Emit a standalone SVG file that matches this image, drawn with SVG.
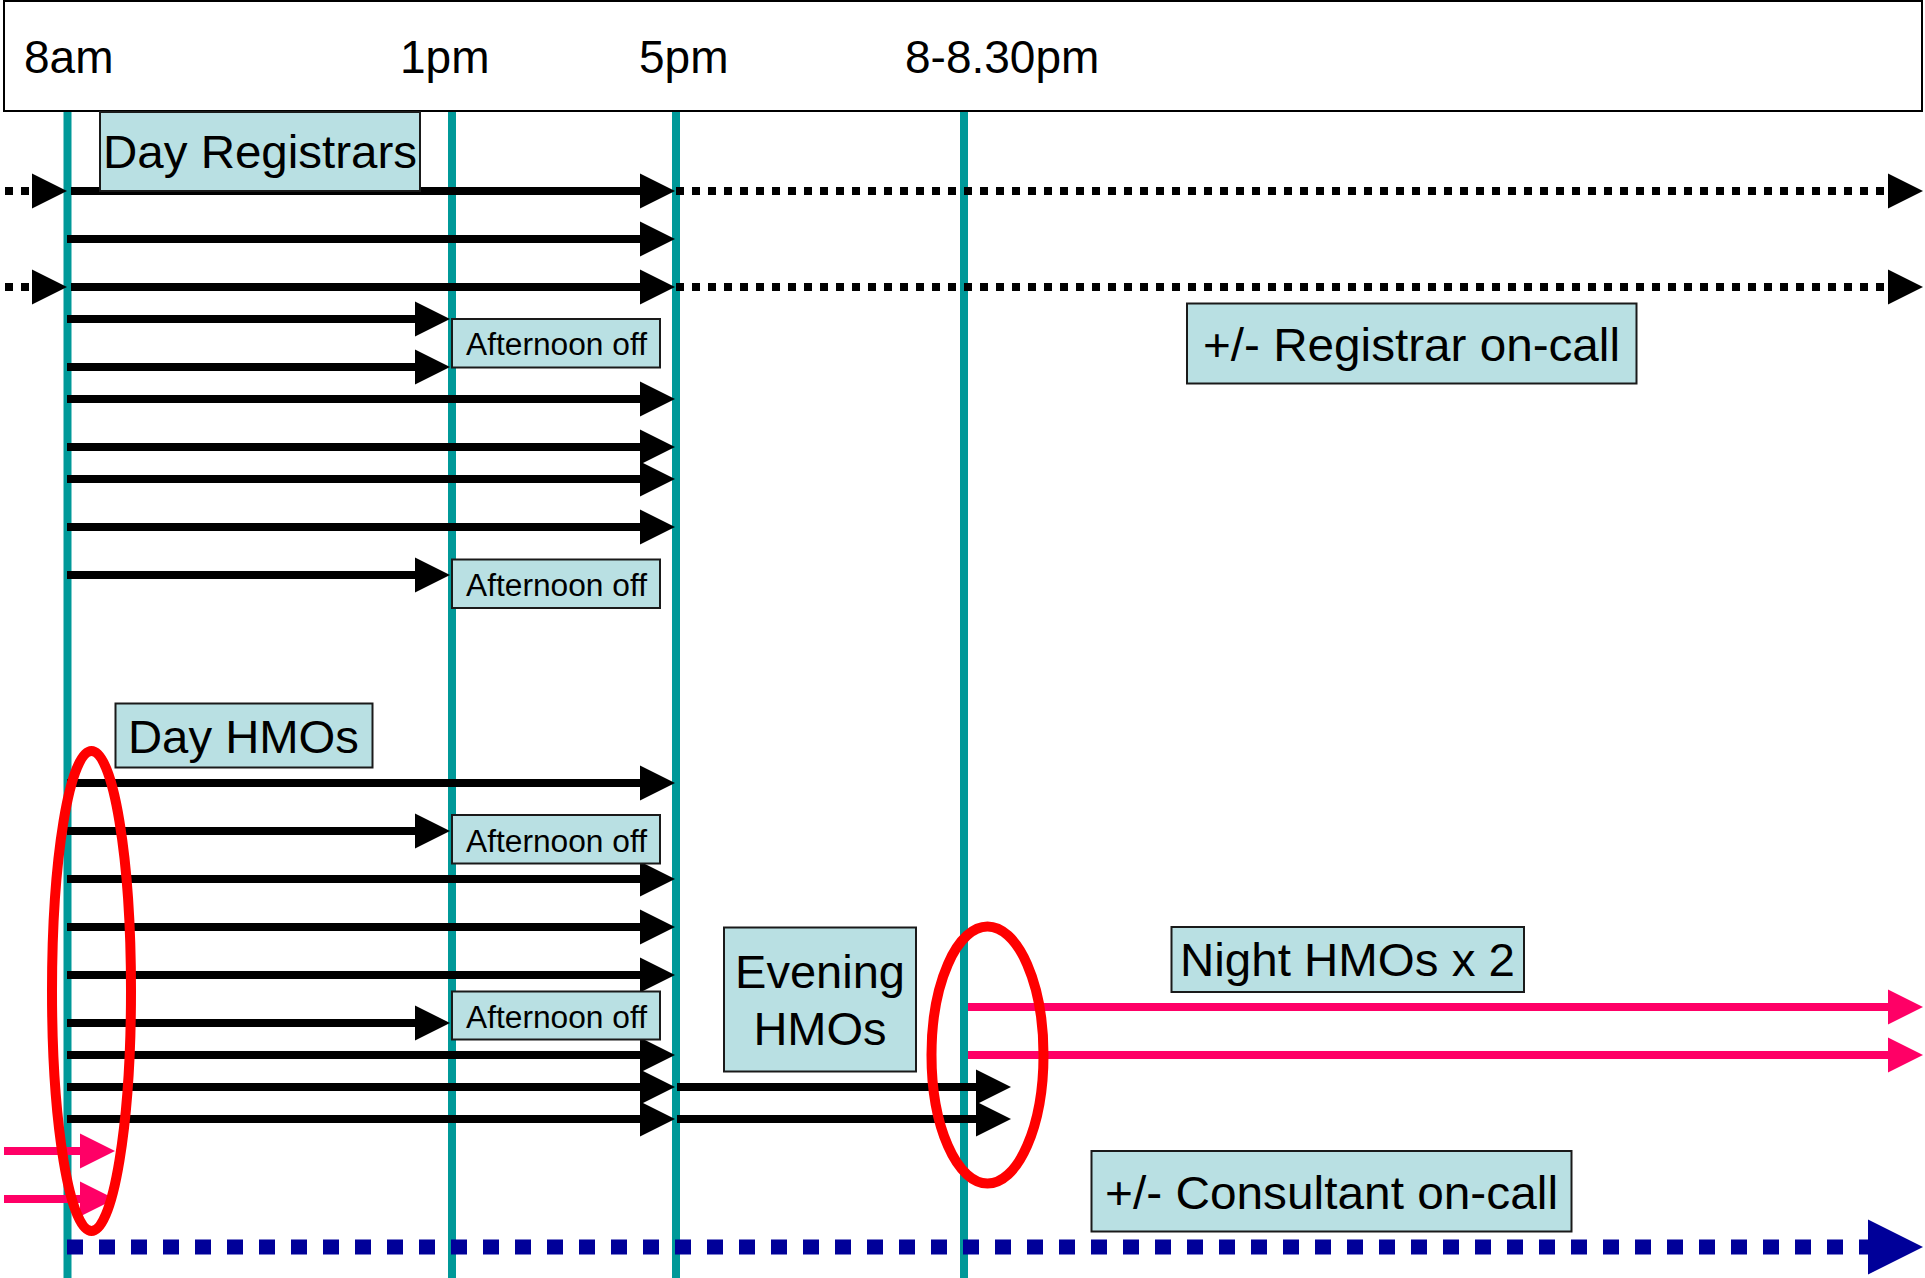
<svg xmlns="http://www.w3.org/2000/svg" xmlns:xlink="http://www.w3.org/1999/xlink" width="1925" height="1278" viewBox="0 0 1925 1278">
<style>
text{font-family:"Liberation Sans",Arial,sans-serif;fill:#000}
.big{font-size:47px}
.hdr{font-size:46px}
.small{font-size:31px}
.box{fill:#B9E0E3;stroke:#1a1a1a;stroke-width:2}
.teal{stroke:#009999;stroke-width:8}
.arr{stroke:#000;stroke-width:8;fill:none}
.dot{stroke:#000;stroke-width:8;stroke-dasharray:8 8;fill:none}
.pink{stroke:#FF0066;stroke-width:8;fill:none}
.blue{stroke:#000099;stroke-width:15;stroke-dasharray:16 16;fill:none}
.oval{fill:none;stroke:#FF0000;stroke-width:10}
</style>
<defs>
<path id="hd" d="M0,-17.5 L35,0 L0,17.5Z" fill="#000"/>
<path id="hp" d="M0,-17.5 L35,0 L0,17.5Z" fill="#FF0066"/>
<path id="hb" d="M0,-27.5 L55,0 L0,27.5Z" fill="#000099"/>
</defs>
<rect width="1925" height="1278" fill="#fff"/>
<g id="header">
<rect x="4" y="1" width="1918" height="110" fill="#fff" stroke="#000" stroke-width="2"/>
<text class="hdr" x="24" y="73">8am</text>
<text class="hdr" x="400" y="73">1pm</text>
<text class="hdr" x="639" y="73">5pm</text>
<text class="hdr" x="905" y="73">8-8.30pm</text>
</g>
<g id="timelines">
<line class="teal" x1="67.5" y1="112" x2="67.5" y2="1278"/>
<line class="teal" x1="452" y1="112" x2="452" y2="1278"/>
<line class="teal" x1="676" y1="112" x2="676" y2="1278"/>
<line class="teal" x1="964" y1="112" x2="964" y2="1278"/>
</g>
<g id="connectors">
<line class="dot" x1="5" y1="191" x2="30" y2="191"/><use xlink:href="#hd" x="32" y="191"/>
<line class="arr" x1="71" y1="191" x2="645" y2="191"/><use xlink:href="#hd" x="640" y="191"/>
<line class="dot" x1="676" y1="191" x2="1888" y2="191"/><use xlink:href="#hd" x="1888" y="191"/>
<line class="arr" x1="67" y1="239" x2="645" y2="239"/><use xlink:href="#hd" x="640" y="239"/>
<line class="dot" x1="5" y1="287" x2="30" y2="287"/><use xlink:href="#hd" x="32" y="287"/>
<line class="arr" x1="71" y1="287" x2="645" y2="287"/><use xlink:href="#hd" x="640" y="287"/>
<line class="dot" x1="676" y1="287" x2="1888" y2="287"/><use xlink:href="#hd" x="1888" y="287"/>
<line class="arr" x1="67" y1="319" x2="420" y2="319"/><use xlink:href="#hd" x="415" y="319"/>
<line class="arr" x1="67" y1="367" x2="420" y2="367"/><use xlink:href="#hd" x="415" y="367"/>
<line class="arr" x1="67" y1="399" x2="645" y2="399"/><use xlink:href="#hd" x="640" y="399"/>
<line class="arr" x1="67" y1="447" x2="645" y2="447"/><use xlink:href="#hd" x="640" y="447"/>
<line class="arr" x1="67" y1="479" x2="645" y2="479"/><use xlink:href="#hd" x="640" y="479"/>
<line class="arr" x1="67" y1="527" x2="645" y2="527"/><use xlink:href="#hd" x="640" y="527"/>
<line class="arr" x1="67" y1="575" x2="420" y2="575"/><use xlink:href="#hd" x="415" y="575"/>
<line class="arr" x1="67" y1="783" x2="645" y2="783"/><use xlink:href="#hd" x="640" y="783"/>
<line class="arr" x1="67" y1="831" x2="420" y2="831"/><use xlink:href="#hd" x="415" y="831"/>
<line class="arr" x1="67" y1="879" x2="645" y2="879"/><use xlink:href="#hd" x="640" y="879"/>
<line class="arr" x1="67" y1="927" x2="645" y2="927"/><use xlink:href="#hd" x="640" y="927"/>
<line class="arr" x1="67" y1="975" x2="645" y2="975"/><use xlink:href="#hd" x="640" y="975"/>
<line class="arr" x1="67" y1="1023" x2="420" y2="1023"/><use xlink:href="#hd" x="415" y="1023"/>
<line class="arr" x1="67" y1="1055" x2="645" y2="1055"/><use xlink:href="#hd" x="640" y="1055"/>
<line class="arr" x1="67" y1="1087" x2="645" y2="1087"/><use xlink:href="#hd" x="640" y="1087"/>
<line class="arr" x1="677" y1="1087" x2="981" y2="1087"/><use xlink:href="#hd" x="976" y="1087"/>
<line class="arr" x1="67" y1="1119" x2="645" y2="1119"/><use xlink:href="#hd" x="640" y="1119"/>
<line class="arr" x1="677" y1="1119" x2="981" y2="1119"/><use xlink:href="#hd" x="976" y="1119"/>
<line class="pink" x1="4" y1="1151" x2="85" y2="1151"/><use xlink:href="#hp" x="80" y="1151"/>
<line class="pink" x1="4" y1="1199" x2="85" y2="1199"/><use xlink:href="#hp" x="80" y="1199"/>
<line class="pink" x1="968" y1="1007" x2="1892" y2="1007"/><use xlink:href="#hp" x="1888" y="1007"/>
<line class="pink" x1="968" y1="1055" x2="1892" y2="1055"/><use xlink:href="#hp" x="1888" y="1055"/>
<line class="blue" x1="67" y1="1247" x2="1868" y2="1247"/><use xlink:href="#hb" x="1868" y="1247"/>
</g>
<g id="day-registrars">
<rect class="box" x="100" y="112" width="320" height="79"/>
<text class="big" x="103" y="168" textLength="314" lengthAdjust="spacingAndGlyphs">Day Registrars</text>
</g>
<g id="afternoon-off-1">
<rect class="box" x="452" y="319" width="208" height="48.5"/>
<text class="small" x="466" y="355" textLength="181" lengthAdjust="spacingAndGlyphs">Afternoon off</text>
</g>
<g id="afternoon-off-2">
<rect class="box" x="452" y="559.5" width="208" height="48.5"/>
<text class="small" x="466" y="595.5" textLength="181" lengthAdjust="spacingAndGlyphs">Afternoon off</text>
</g>
<g id="registrar-on-call">
<rect class="box" x="1187" y="303.5" width="449.5" height="80"/>
<text class="big" x="1203" y="361" textLength="417" lengthAdjust="spacingAndGlyphs">+/- Registrar on-call</text>
</g>
<g id="day-hmos">
<rect class="box" x="115.5" y="703.5" width="257" height="64"/>
<text class="big" x="128" y="753" textLength="231" lengthAdjust="spacingAndGlyphs">Day HMOs</text>
</g>
<g id="afternoon-off-3">
<rect class="box" x="452" y="815" width="208" height="48.5"/>
<text class="small" x="466" y="851.5" textLength="181" lengthAdjust="spacingAndGlyphs">Afternoon off</text>
</g>
<g id="afternoon-off-4">
<rect class="box" x="452" y="991.5" width="208" height="48"/>
<text class="small" x="466" y="1027.5" textLength="181" lengthAdjust="spacingAndGlyphs">Afternoon off</text>
</g>
<g id="evening-hmos">
<rect class="box" x="724" y="927.5" width="192" height="144"/>
<text class="big" x="820" y="987.5" text-anchor="middle">Evening</text>
<text class="big" x="820" y="1045" text-anchor="middle">HMOs</text>
</g>
<g id="night-hmos">
<rect class="box" x="1171.5" y="927" width="352.5" height="65"/>
<text class="big" x="1180" y="976" textLength="335" lengthAdjust="spacingAndGlyphs">Night HMOs x 2</text>
</g>
<g id="consultant-on-call">
<rect class="box" x="1091.5" y="1151" width="480" height="80.5"/>
<text class="big" x="1105" y="1208.5" textLength="453" lengthAdjust="spacingAndGlyphs">+/- Consultant on-call</text>
</g>
<g id="highlights">
<ellipse class="oval" cx="91.5" cy="991" rx="39.5" ry="240"/>
<ellipse class="oval" cx="987.5" cy="1055" rx="56" ry="128.5"/>
</g>
</svg>
